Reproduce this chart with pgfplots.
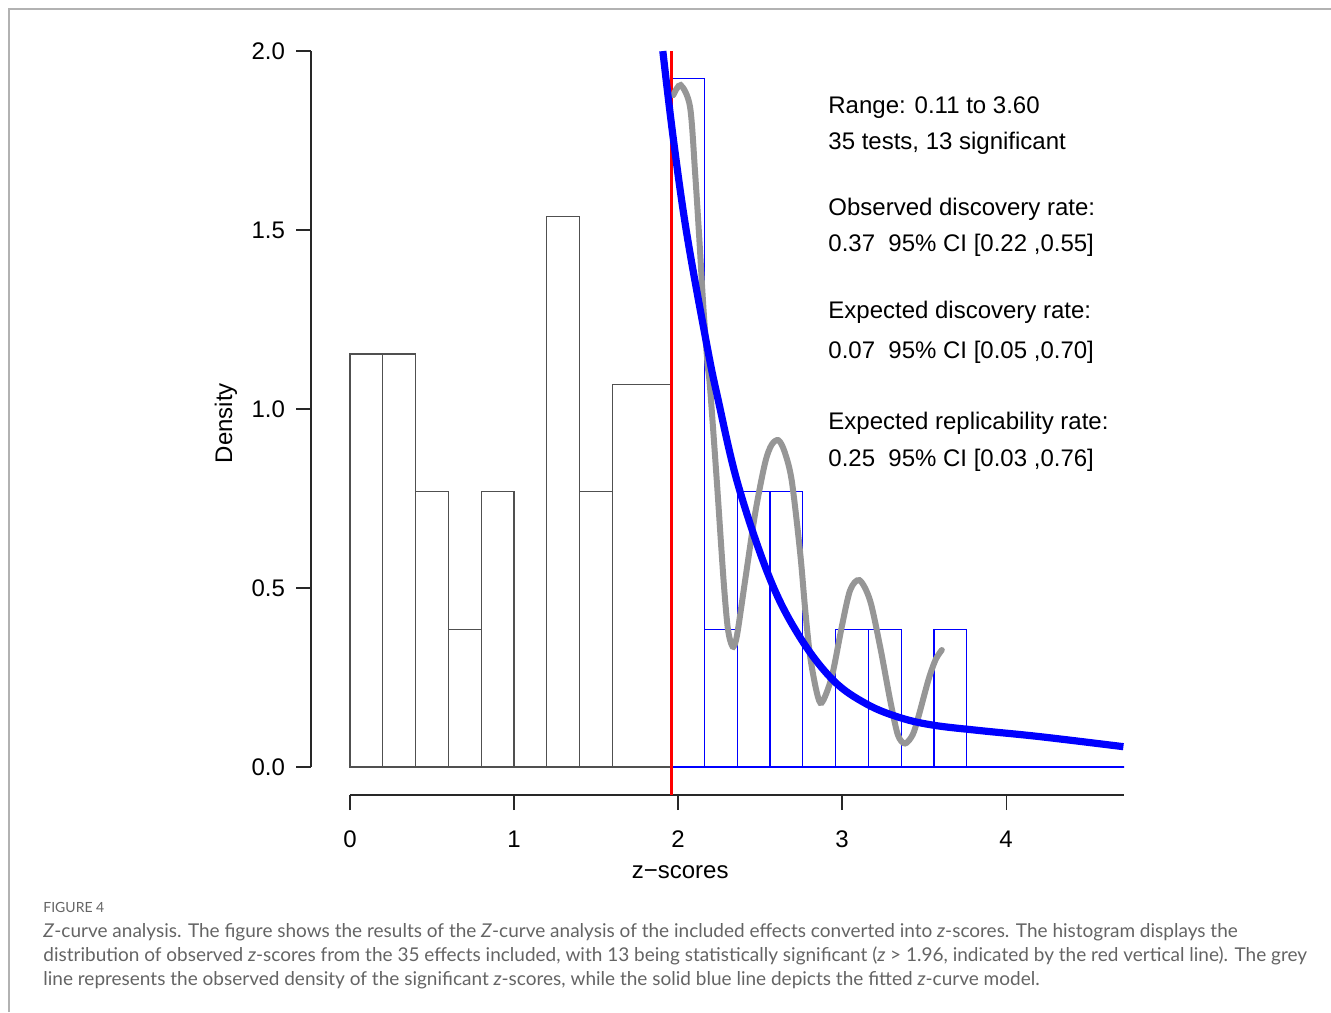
\documentclass[border=0pt]{standalone}
\usepackage{pgfplots}
\pgfplotsset{compat=1.18}
\usepackage{fontspec}
\setmainfont{Liberation Sans}
\newfontfamily\capfont{Lato}

\definecolor{zblue}{RGB}{0,0,255}
\definecolor{zgray}{RGB}{150,150,150}
\definecolor{framegray}{RGB}{178,178,178}
\definecolor{capgray}{RGB}{100,100,100}
\definecolor{axisgray}{RGB}{40,40,40}
\definecolor{bargray}{RGB}{80,80,80}

\begin{document}
\begin{tikzpicture}
% page frame
\draw[framegray, line width=1pt] (4.5pt,-506pt) -- (4.5pt,-4.5pt) -- (665.5pt,-4.5pt);

\begin{axis}[
  at={(155.5pt,-397.5pt)}, anchor=south west,
  scale only axis, width=406.6pt, height=371.96pt,
  xmin=-0.238, xmax=4.72, ymin=-0.078, ymax=2.0,
  clip=false,
  axis x line=bottom, axis y line=left,
  axis line style={draw=none},
  tick align=outside,
  major tick length=7.5pt,
  tick style={axisgray, line width=0.6pt},
  xtick={0,1,2,3,4}, xticklabels={0,1,2,3,4},
  ytick={0,0.5,1,1.5,2}, yticklabels={0.0,0.5,1.0,1.5,2.0},
  every tick label/.append style={font=\fontsize{12}{14}\selectfont},
  xticklabel style={yshift=-7pt},
  yticklabel style={xshift=-2pt},
  xlabel={z−scores},
  ylabel={Density},
  every axis x label/.style={at={(axis description cs:0.454,-0.104)}, anchor=center, font=\fontsize{12}{14}\selectfont},
  every axis y label/.style={at={(axis description cs:-0.1045,0.5)}, anchor=center, rotate=90, font=\fontsize{12}{14}\selectfont},
]
% axis lines as R draws them
\draw[axisgray, line width=0.6pt] (axis cs:-0.238,0) -- (axis cs:-0.238,2);
\draw[axisgray, line width=0.6pt] (axis cs:0,-0.078) -- (axis cs:4.72,-0.078);

% non-significant z-scores
\addplot[ybar interval, draw=bargray, fill=none, line width=0.6pt] coordinates {
  (0.00,1.1538) (0.20,1.1538) (0.40,0.7692) (0.60,0.3846) (0.80,0.7692)
  (1.00,0) (1.20,1.5385) (1.40,0.7692) (1.60,1.0684) (1.96,0)
};
% significant z-scores
\addplot[ybar interval, draw=zblue, fill=none, line width=0.6pt] coordinates {
  (1.96,1.9231) (2.16,0.3846) (2.36,0.7692) (2.56,0.7692) (2.76,0)
  (2.96,0.3846) (3.16,0.3846) (3.36,0) (3.56,0.3846) (3.76,0)
  (3.96,0) (4.16,0) (4.36,0) (4.56,0) (4.72,0)
};

% significance threshold
\addplot[red, line width=1.5pt] coordinates {(1.96,-0.078) (1.96,2.0)};

% observed density of significant z-scores
\addplot[zgray, line width=3pt, smooth, tension=0.5, line cap=round] coordinates {
  (1.971,1.877) (2.016,1.905) (2.073,1.844) (2.104,1.659) (2.13,1.472)
  (2.154,1.286) (2.179,1.13) (2.195,1.06) (2.236,0.80) (2.276,0.53)
  (2.30,0.40) (2.317,0.355) (2.337,0.336) (2.36,0.37) (2.409,0.522)
  (2.47,0.709) (2.53,0.849) (2.57,0.90) (2.612,0.913) (2.65,0.88)
  (2.693,0.80) (2.744,0.60) (2.775,0.44) (2.805,0.31) (2.845,0.21)
  (2.876,0.18) (2.937,0.252) (2.998,0.392) (3.049,0.494) (3.106,0.522)
  (3.17,0.466) (3.232,0.336) (3.293,0.187) (3.34,0.09) (3.384,0.066)
  (3.43,0.09) (3.465,0.14) (3.526,0.243) (3.57,0.30) (3.608,0.327)
};

% fitted z-curve
\addplot[zblue, line width=3.6pt, smooth, tension=0.6] coordinates {
  (1.907,2.0) (1.971,1.755) (2.053,1.49) (2.175,1.18) (2.24,1.035)
  (2.368,0.785) (2.561,0.525) (2.744,0.362) (2.947,0.242) (3.15,0.176)
  (3.354,0.138) (3.557,0.117) (3.84,0.102) (4.207,0.085) (4.715,0.057)
};
\end{axis}

% z-curve summary
\begin{scope}[every node/.style={anchor=base west, inner sep=0pt, font=\fontsize{12}{14}\selectfont}]
\node at (414pt,-56.7pt) {Range: 0.11 to 3.60};
\node at (414pt,-74.9pt) {35 tests, 13 significant};
\node at (414pt,-107.7pt) {Observed discovery rate:};
\node at (414pt,-125.5pt) {0.37\ \ 95\% CI [0.22 ,0.55]};
\node at (414pt,-159.2pt) {Expected discovery rate:};
\node at (414pt,-179pt) {0.07\ \ 95\% CI [0.05 ,0.70]};
\node at (414pt,-214.5pt) {Expected replicability rate:};
\node at (414pt,-233.3pt) {0.25\ \ 95\% CI [0.03 ,0.76]};
\end{scope}

% figure caption
\begin{scope}[every node/.style={anchor=base west, inner sep=0pt, text=capgray}]
\node[font=\capfont\fontsize{7}{8}\selectfont] at (21.5pt,-456pt) {FIGURE 4};
\node[font=\capfont\fontsize{9.5}{11}\selectfont] at (21.5pt,-468.5pt) {\textit{Z}-curve analysis. The figure shows the results of the \textit{Z}-curve analysis of the included effects converted into \textit{z}-scores. The histogram displays the};
\node[font=\capfont\fontsize{9.5}{11}\selectfont] at (21.5pt,-480.5pt) {distribution of observed \textit{z}-scores from the 35 effects included, with 13 being statistically significant (\textit{z} > 1.96, indicated by the red vertical line). The grey};
\node[font=\capfont\fontsize{9.5}{11}\selectfont] at (21.5pt,-492.5pt) {line represents the observed density of the significant \textit{z}-scores, while the solid blue line depicts the fitted \textit{z}-curve model.};
\end{scope}

\pgfresetboundingbox
\path[use as bounding box] (0pt,0pt) rectangle (665.5pt,-506pt);
\end{tikzpicture}
\end{document}
